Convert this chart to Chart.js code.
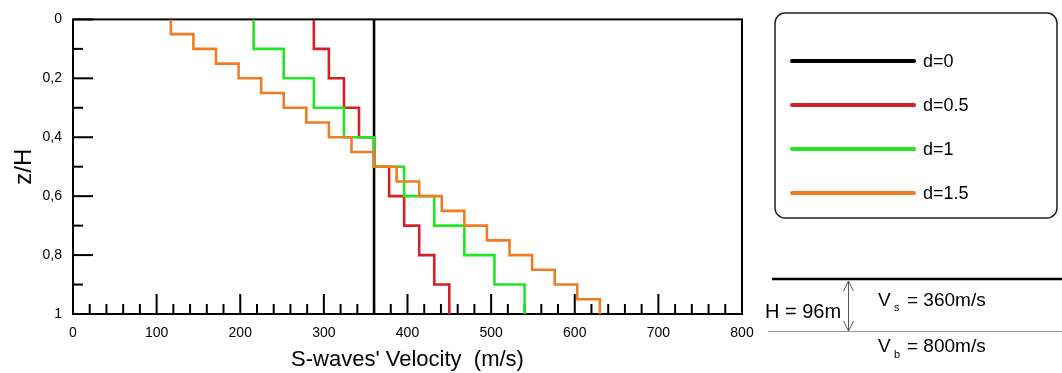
<!DOCTYPE html>
<html>
<head>
<meta charset="utf-8">
<script src="https://cdn.jsdelivr.net/npm/chart.js@4/dist/chart.umd.min.js"></script>
<style>
  body { margin: 0; background: #fff; }
  #wrap { width: 1062px; height: 373px; }
</style>
</head>
<body>
<div id="wrap"><canvas id="vsChart" width="1062" height="373"></canvas></div>
<script>
// layer boundaries (z/H)
const zBounds10 = [0, 0.1, 0.2, 0.3, 0.4, 0.5, 0.6, 0.7, 0.8, 0.9, 1];
const zBounds20 = [0, 0.05, 0.1, 0.15, 0.2, 0.25, 0.3, 0.35, 0.4, 0.45, 0.5,
  0.55, 0.6, 0.65, 0.7, 0.75, 0.8, 0.85, 0.9, 0.95, 1];
const zBounds1 = [0, 1];

// shear wave velocity per layer (m/s)
const vsD0 = [360];
const vsD05 = [288, 306, 324, 342, 360, 378, 396, 414, 432, 450];
const vsD1 = [216, 252, 288, 324, 360, 396, 432, 468, 504, 540];
const vsD15 = [117, 144, 171, 198, 225, 252, 279, 306, 333, 360,
  387, 414, 441, 468, 495, 522, 549, 576, 603, 630];

const seriesLabels = ["d=0", "d=0.5", "d=1", "d=1.5"];
const seriesColors = ["#000000", "#d42027", "#22e622", "#f07d22"];

// axis ticks
const xMajorTicks = [0, 100, 200, 300, 400, 500, 600, 700, 800];
const xMinorStep = 20;
const yMajorTicks = [0, 0.2, 0.4, 0.6, 0.8, 1];
const yMinorTicks = [0.1, 0.3, 0.5, 0.7, 0.9];

// turn a layered profile into corner points
function stepProfile(vs, z) {
  const pts = [];
  vs.forEach((v, i) => {
    pts.push({ x: v, y: z[i] });
    pts.push({ x: v, y: z[i + 1] });
  });
  return pts;
}

const profiles = [
  stepProfile(vsD0, zBounds1),
  stepProfile(vsD05, zBounds10),
  stepProfile(vsD1, zBounds10),
  stepProfile(vsD15, zBounds20)
];

const FONT = "'Liberation Sans', Arial, sans-serif";
Chart.defaults.font.family = FONT;
Chart.defaults.color = "#000";

const frameAndTicks = {
  id: "frameAndTicks",
  beforeDatasetsDraw(chart) {
    const { ctx, chartArea: a, scales } = chart;
    ctx.save();
    ctx.strokeStyle = "#000";
    ctx.lineWidth = 2;
    // bottom ticks
    for (let v = 0; v <= 800; v += xMinorStep) {
      const px = scales.x.getPixelForValue(v);
      const len = xMajorTicks.includes(v) ? 20 : 10;
      ctx.beginPath();
      ctx.moveTo(px, a.bottom);
      ctx.lineTo(px, a.bottom - len);
      ctx.stroke();
    }
    // left ticks
    yMajorTicks.concat(yMinorTicks).forEach(v => {
      const py = scales.y.getPixelForValue(v);
      const len = yMajorTicks.includes(v) ? 20 : 10;
      ctx.beginPath();
      ctx.moveTo(a.left, py);
      ctx.lineTo(a.left + len, py);
      ctx.stroke();
    });
    ctx.strokeRect(a.left, a.top, a.right - a.left, a.bottom - a.top);
    ctx.restore();
  },
  afterDraw(chart) {
    const ctx = chart.ctx;
    ctx.save();

    // legend box
    const bx = 775, by = 13, bw = 282, bh = 205, r = 10;
    ctx.strokeStyle = "#222";
    ctx.lineWidth = 1.5;
    ctx.beginPath();
    ctx.roundRect(bx, by, bw, bh, r);
    ctx.stroke();
    ctx.font = "18px " + FONT;
    ctx.textBaseline = "middle";
    ctx.textAlign = "left";
    chart.data.datasets.forEach((ds, i) => {
      const y = 61 + i * 44;
      ctx.strokeStyle = ds.borderColor;
      ctx.lineWidth = 4;
      ctx.lineCap = "round";
      ctx.beginPath();
      ctx.moveTo(792, y);
      ctx.lineTo(914, y);
      ctx.stroke();
      ctx.fillStyle = "#000";
      ctx.fillText(ds.label, 923, y + 1);
    });

    // soil layer sketch
    ctx.lineCap = "butt";
    ctx.strokeStyle = "#000";
    ctx.lineWidth = 2.5;
    ctx.beginPath();
    ctx.moveTo(772, 279);
    ctx.lineTo(1062, 279);
    ctx.stroke();
    ctx.strokeStyle = "#999";
    ctx.lineWidth = 1;
    ctx.beginPath();
    ctx.moveTo(768, 331.5);
    ctx.lineTo(1062, 331.5);
    ctx.stroke();
    // double arrow
    ctx.strokeStyle = "#555";
    ctx.beginPath();
    ctx.moveTo(848.5, 281);
    ctx.lineTo(848.5, 331);
    ctx.moveTo(843.5, 291);
    ctx.lineTo(848.5, 281);
    ctx.lineTo(853.5, 291);
    ctx.moveTo(843.5, 321);
    ctx.lineTo(848.5, 331);
    ctx.lineTo(853.5, 321);
    ctx.stroke();

    ctx.fillStyle = "#000";
    ctx.textBaseline = "alphabetic";
    ctx.font = "20px " + FONT;
    ctx.fillText("H = 96m", 765, 318);
    ctx.font = "19px " + FONT;
    ctx.fillText("V", 878, 306);
    ctx.fillText("= 360m/s", 907, 306);
    ctx.fillText("V", 878, 352);
    ctx.fillText("= 800m/s", 907, 352);
    ctx.font = "11px " + FONT;
    ctx.fillText("s", 894, 311);
    ctx.fillText("b", 894, 358);
    ctx.restore();
  }
};

const ctx = document.getElementById("vsChart");

new Chart(ctx, {
  type: "line",
  data: {
    datasets: profiles.map((pts, i) => ({
      label: seriesLabels[i],
      data: pts,
      borderColor: seriesColors[i],
      borderWidth: 2.6,
      pointRadius: 0,
      tension: 0,
      fill: false,
      order: 4 - i
    }))
  },
  options: {
    responsive: false,
    animation: false,
    layout: { padding: { top: 15, right: 320, bottom: 0, left: 0 } },
    scales: {
      x: {
        type: "linear",
        min: 0,
        max: 800,
        afterFit(scale) { scale.height = 59; },
        grid: { display: false, drawTicks: false },
        border: { display: false },
        ticks: { stepSize: 100, padding: 11, font: { size: 14 }, maxRotation: 0 },
        title: {
          display: true,
          text: "S-waves' Velocity  (m/s)",
          font: { size: 22 },
          padding: { top: 0, bottom: 0 }
        }
      },
      y: {
        type: "linear",
        min: 0,
        max: 1,
        reverse: true,
        afterFit(scale) { scale.width = 73; },
        grid: { display: false, drawTicks: false },
        border: { display: false },
        ticks: {
          stepSize: 0.2,
          padding: 11,
          font: { size: 14 },
          callback: v => (v === 0 || v === 1) ? String(v) : v.toFixed(1).replace(".", ",")
        },
        title: {
          display: true,
          text: "z/H",
          font: { size: 24 },
          padding: { top: 10, bottom: 0 }
        }
      }
    },
    plugins: {
      legend: { display: false },
      tooltip: { enabled: false }
    }
  },
  plugins: [frameAndTicks]
});
</script>
</body>
</html>
